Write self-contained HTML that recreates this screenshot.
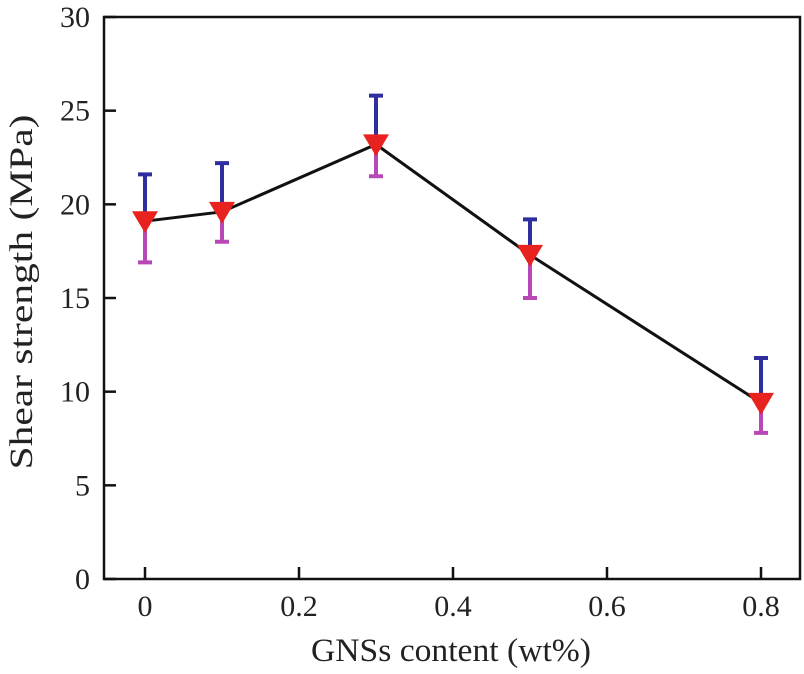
<!DOCTYPE html>
<html><head><meta charset="utf-8"><style>
html,body{margin:0;padding:0;background:#fff;}
svg text{font-family:"Liberation Serif",serif;fill:#222;}
</style></head><body>
<svg id="chart" width="804" height="669" viewBox="0 0 804 669">
</svg>
<script>
const categories = [0, 0.1, 0.3, 0.5, 0.8];
const values = [19.1, 19.6, 23.2, 17.3, 9.4];
const errUpper = [21.6, 22.2, 25.8, 19.2, 11.8];
const errLower = [16.9, 18.0, 21.5, 15.0, 7.8];
const xTicks = [0, 0.2, 0.4, 0.6, 0.8];
const xTickLabels = ["0", "0.2", "0.4", "0.6", "0.8"];
const yTicks = [0, 5, 10, 15, 20, 25, 30];
const yTickLabels = ["0", "5", "10", "15", "20", "25", "30"];

const svg = document.getElementById('chart');
const NS = 'http://www.w3.org/2000/svg';
const L = 104, R = 800, T = 17, B = 579;
const xS = v => 145 + (v / 0.2) * 154;
const yS = v => B - (v / 30) * (B - T);
function mk(tag, attrs) { const e = document.createElementNS(NS, tag); for (const k in attrs) e.setAttribute(k, attrs[k]); svg.appendChild(e); return e; }

const frame = mk('rect', {x: L, y: T, width: R - L, height: B - T, fill: 'none', stroke: '#111', 'stroke-width': 2.5});



yTicks.forEach((v, i) => {
  const t = mk('line', {x1: L, x2: L + 12, y1: yS(v), y2: yS(v), stroke: '#111', 'stroke-width': 2.5});
  
  
  const lb = mk('text', {x: L - 14, y: yS(v) + 10, 'text-anchor': 'end', 'font-size': 30});
  lb.textContent = yTickLabels[i];
  
  
});
xTicks.forEach((v, i) => {
  const t = mk('line', {x1: xS(v), x2: xS(v), y1: B, y2: B - 12, stroke: '#111', 'stroke-width': 2.5});
  
  
  const lb = mk('text', {x: xS(v), y: 616, 'text-anchor': 'middle', 'font-size': 30});
  lb.textContent = xTickLabels[i];
  
  
});

const yt = mk('text', {x: 0, y: 0, 'text-anchor': 'middle', 'font-size': 33, textLength: 355, lengthAdjust: 'spacingAndGlyphs', transform: 'translate(32,292) rotate(-90)'});
yt.textContent = 'Shear strength (MPa)';


const xt = mk('text', {x: 451, y: 661, 'text-anchor': 'middle', 'font-size': 33, textLength: 280, lengthAdjust: 'spacingAndGlyphs'});
xt.textContent = 'GNSs content (wt%)';



const line = mk('polyline', {points: categories.map((c, i) => xS(c) + ',' + yS(values[i])).join(' '), fill: 'none', stroke: '#111', 'stroke-width': 3});



categories.forEach((c, i) => {
  const x = xS(c), y = yS(values[i]), yu = yS(errUpper[i]), yl = yS(errLower[i]);
  const up = mk('path', {d: `M${x},${y} V${yu} M${x - 7},${yu} H${x + 7}`, stroke: '#2e2e9e', 'stroke-width': 4, fill: 'none'});
  
  
  const lo = mk('path', {d: `M${x},${y} V${yl} M${x - 7},${yl} H${x + 7}`, stroke: '#b848b8', 'stroke-width': 4, fill: 'none'});
  
  
  const m = mk('path', {d: `M${x - 13},${y - 10} H${x + 13} L${x},${y + 12} Z`, fill: '#e8231f'});
  
  
});
</script>
</body></html>
